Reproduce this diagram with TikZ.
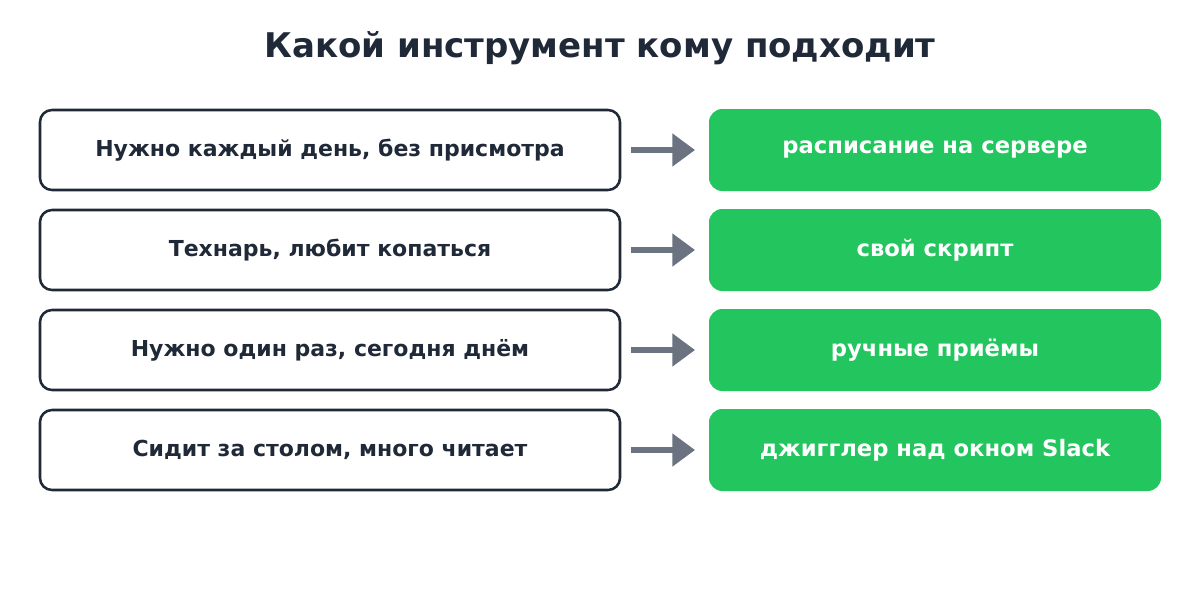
\documentclass[tikz,border=0pt]{standalone}
\usepackage{fontspec}
\setmainfont{DejaVu Sans}
\usetikzlibrary{arrows.meta}
\definecolor{ink}{HTML}{1F2937}
\definecolor{grn}{HTML}{22C55E}
\definecolor{gry}{HTML}{6B7280}
\begin{document}
\begin{tikzpicture}[x=0.75pt,y=-0.75pt,
 q/.style={draw=ink,line width=1.9pt,rounded corners=9pt,minimum width=435pt,minimum height=60pt,inner sep=0pt,font=\bfseries\fontsize{16.5}{18}\selectfont,text=ink},
 a/.style={fill=grn,rounded corners=10pt,minimum width=339pt,minimum height=61.5pt,inner sep=0pt,font=\bfseries\fontsize{17}{19}\selectfont,text=white},
 ar/.style={draw=gry,line width=3.8pt,-{Triangle[length=17pt,width=24pt]},shorten >=0pt}]
\useasboundingbox (0,0) rectangle (1200,600);
\node[font=\bfseries\fontsize{25.5}{28}\selectfont,text=ink] (t) at (600,48) {Какой инструмент кому подходит};
\foreach \i/\l/\r [count=\k] in {150/Нужно каждый день{,} без присмотра/расписание на сервере,250/Технарь{,} любит копаться/свой скрипт,350/Нужно один раз{,} сегодня днём/ручные приёмы,450/Сидит за столом{,} много читает/джигглер над окном Slack}{
 \node[q] (l\k) at (330,\i) {\l};
 \node[a] (r\k) at (935,\i) {\r};
 \coordinate (s\k) at (631,\i);
 \coordinate (e\k) at (695,\i);
 \draw[ar] (s\k) -- (e\k);
}
\end{tikzpicture}
\end{document}
